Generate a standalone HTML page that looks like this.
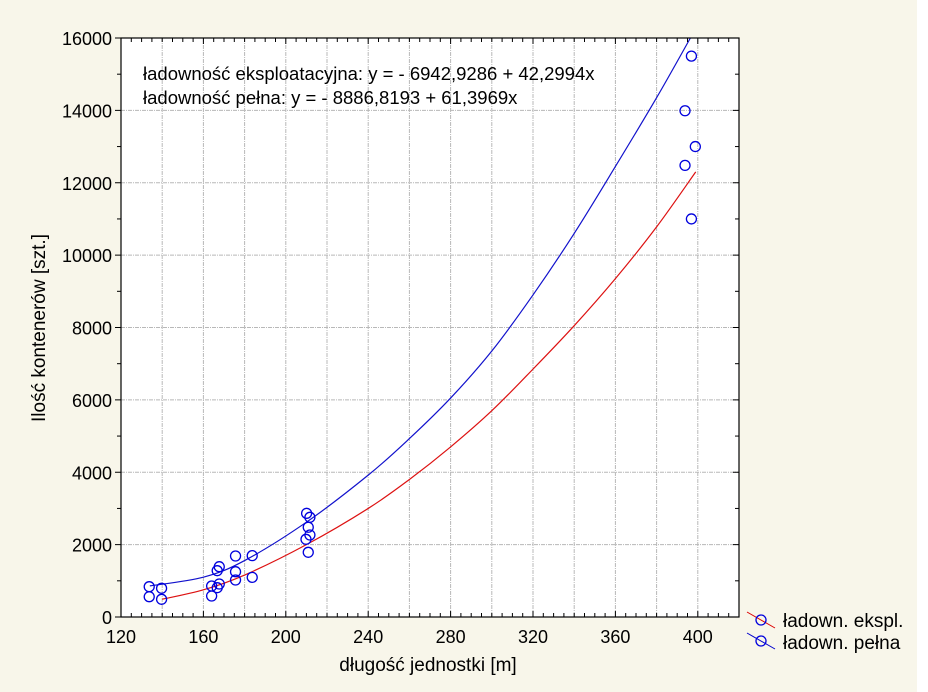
<!DOCTYPE html>
<html><head><meta charset="utf-8"><style>
html,body{margin:0;padding:0;background:#fff}
svg{display:block;font-family:"Liberation Sans",Arial,sans-serif}
</style></head><body>
<svg id="chart" width="928" height="692" xmlns="http://www.w3.org/2000/svg">
<rect x="0" y="0" width="917" height="692" fill="#f8f6ea"/>
<rect x="121" y="38" width="618" height="579" fill="#ffffff"/>
<g id="grid"></g>
<g id="curves"></g>
<g id="points"></g>
<g id="axes"></g>
<text x="143" y="80" font-size="18.5" fill="#000">ładowność eksploatacyjna: y = - 6942,9286 + 42,2994x</text>
<text x="143" y="104" font-size="18.5" fill="#000">ładowność pełna: y = - 8886,8193 + 61,3969x</text>
<text x="428" y="671" font-size="19" text-anchor="middle">długość jednostki [m]</text>
<text transform="translate(45,328) rotate(-90)" font-size="19" text-anchor="middle">Ilość kontenerów [szt.]</text>
<g>
<g>
<line x1="747" y1="612" x2="775" y2="628" stroke="#d00" stroke-width="1"/>
<circle cx="761" cy="620" r="5" fill="none" stroke="#0000dd" stroke-width="1.3"/>
<text x="783" y="627" font-size="19">ładown. ekspl.</text></g>
<g>
<line x1="747" y1="633" x2="775" y2="649" stroke="#0000cc" stroke-width="1"/>
<circle cx="761" cy="641" r="5" fill="none" stroke="#0000dd" stroke-width="1.3"/>
<text x="783" y="649" font-size="19">ładown. pełna</text></g>
</g>
</svg>
<script>
const xTicks=[120,160,200,240,280,320,360,400];
const yTicks=[0,2000,4000,6000,8000,10000,12000,14000,16000];
const redX=[140,160,180,210,240,260,280,300,320,340,360,380,399];
const redY=[490,750,1160,2000,3000,3800,4700,5700,6850,8050,9350,10780,12300];
const blueX=[134,160,180,210,240,260,280,300,320,340,360,380,396.4];
const blueY=[860,1100,1560,2620,3920,4930,6050,7350,8900,10600,12450,14350,16000];
const ptX=[133.7,133.7,139.7,139.7,164,164,166.7,167.7,167.7,166.7,175.6,175.6,175.6,183.7,183.7,210.1,211.7,210.9,211.7,209.8,210.9,396.9,393.8,398.8,393.8,396.9];
const ptY=[838,561,793,489,856,580,1280,1390,912,810,1686,1252,1022,1695,1096,2865,2755,2480,2266,2147,1788,15500,13990,13000,12480,11000];
const X0=121,X1=739,Y0=617,Y1=38,XMIN=120,XMAX=420,YMAX=16000;
const sx=v=>X0+(v-XMIN)/(XMAX-XMIN)*(X1-X0);
const sy=v=>Y0-v/YMAX*(Y0-Y1);
const NS="http://www.w3.org/2000/svg";
function mk(tag,attrs,parent){const e=document.createElementNS(NS,tag);for(const k in attrs)e.setAttribute(k,attrs[k]);parent.appendChild(e);return e;}
const grid=document.getElementById('grid'),axes=document.getElementById('axes'),curves=document.getElementById('curves'),points=document.getElementById('points');
for(let v=140;v<XMAX;v+=20){const l=mk('line',{x1:sx(v),x2:sx(v),y1:Y1,y2:Y0,stroke:'#b8b8b8','stroke-dasharray':'4,1,1,1'},grid);

}
for(let v=2000;v<YMAX;v+=2000){const l=mk('line',{x1:X0,x2:X1,y1:sy(v),y2:sy(v),stroke:'#b8b8b8','stroke-dasharray':'4,1,1,1'},grid);

}
function path(xs,ys){let p=[];for(let i=0;i<xs.length;i++)p.push([sx(xs[i]),sy(ys[i])]);
let d='M'+p[0][0]+','+p[0][1];
for(let i=0;i<p.length-1;i++){const a=p[Math.max(0,i-1)],b=p[i],c=p[i+1],e=p[Math.min(p.length-1,i+2)];
d+=' C'+(b[0]+(c[0]-a[0])/6)+','+(b[1]+(c[1]-a[1])/6)+' '+(c[0]-(e[0]-b[0])/6)+','+(c[1]-(e[1]-b[1])/6)+' '+c[0]+','+c[1];}
return d;}
const rc=mk('path',{d:path(redX,redY),fill:'none',stroke:'#dd1111','stroke-width':1.2},curves);


const bc=mk('path',{d:path(blueX,blueY),fill:'none',stroke:'#1111cc','stroke-width':1.2},curves);


for(let i=0;i<ptX.length;i++){const c=mk('circle',{cx:sx(ptX[i]),cy:sy(ptY[i]),r:5,fill:'none',stroke:'#0000dd','stroke-width':1.3},points);

}
const fr=mk('rect',{x:X0,y:Y1,width:X1-X0,height:Y0-Y1,fill:'none',stroke:'#000','stroke-width':1.2},axes);


for(let v=XMIN;v<=XMAX;v+=5){const maj=(v%40===0);
mk('line',{x1:sx(v),x2:sx(v),y1:Y0,y2:Y0-(maj?6:4),stroke:'#000'},axes);
mk('line',{x1:sx(v),x2:sx(v),y1:Y1,y2:Y1+(maj?6:4),stroke:'#000'},axes);}
for(let v=0;v<=YMAX;v+=1000){mk('line',{x1:X0,x2:X0-(v%2000===0?6:4),y1:sy(v),y2:sy(v),stroke:'#000'},axes);
mk('line',{x1:X1,x2:X1-(v%2000===0?6:4),y1:sy(v),y2:sy(v),stroke:'#000'},axes);}
xTicks.forEach(v=>{const t=mk('text',{x:sx(v),y:Y0+26,'font-size':18,'text-anchor':'middle'},axes);t.textContent=v;

});
yTicks.forEach(v=>{const t=mk('text',{x:112,y:sy(v)+7,'font-size':18,'text-anchor':'end'},axes);t.textContent=v;

});
</script>
</body></html>
